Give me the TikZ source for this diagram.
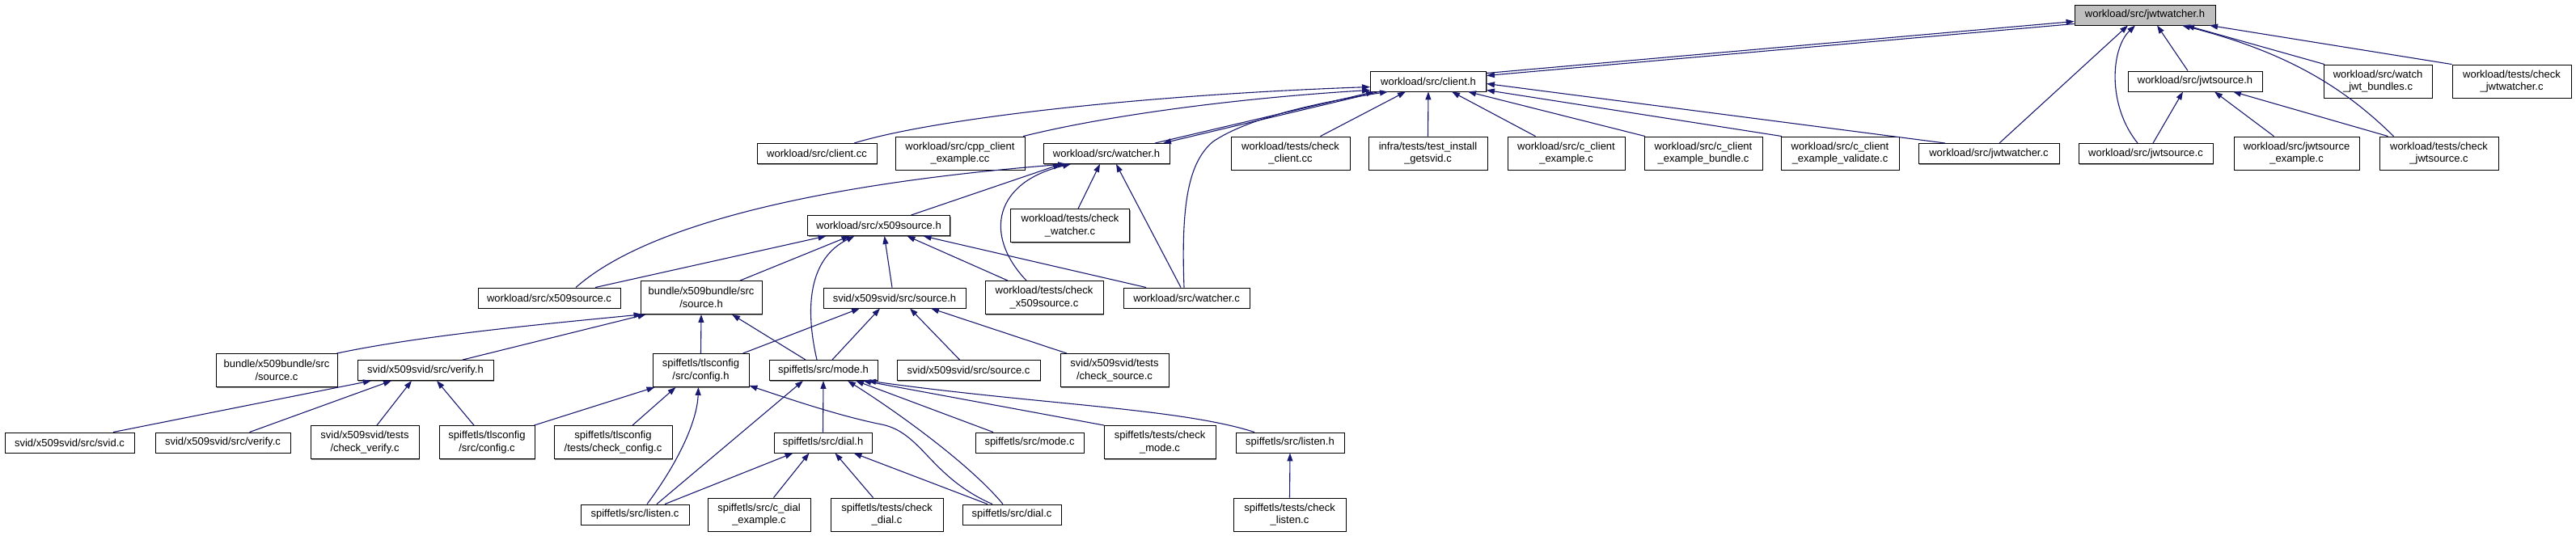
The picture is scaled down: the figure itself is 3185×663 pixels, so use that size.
\documentclass[tikz,border=0pt]{standalone}
\usepackage{fontspec}
\setmainfont{Liberation Sans}
\usetikzlibrary{arrows.meta,calc,shadows}
\definecolor{edgeblue}{HTML}{191970}
\definecolor{rootgray}{HTML}{BFBFBF}
\tikzset{
  box/.style={draw=black, line width=0.9pt, fill=white, minimum height=25pt, inner sep=0pt, align=center,
    font=\fontsize{13}{15.6}\selectfont,
    drop shadow={shadow xshift=1.2pt, shadow yshift=-1.2pt, fill=black!45, opacity=1}},
  box2/.style={box, minimum height=41pt},
  rootbox/.style={box, fill=rootgray},
  edge/.style={draw=edgeblue, line width=1.1pt, -{Triangle[length=10pt,width=7pt]}},
}
\begin{document}
\begin{tikzpicture}[x=1pt,y=-1pt]
\useasboundingbox (0,0) rectangle (3185,663);
% row 0
\node[rootbox, minimum width=174pt] (jwh) at (2652,18.5) {workload/src/jwtwatcher.h};
% row 1
\node[box, minimum width=143pt] (clh) at (1766,100.5) {workload/src/client.h};
\node[box, minimum width=166pt] (jsh) at (2714,100.5) {workload/src/jwtsource.h};
\node[box2, minimum width=134pt] (wjb) at (2940,100.5) {workload/src/watch\\\_jwt\_bundles.c};
\node[box2, minimum width=147pt] (cjw) at (3105.5,100.5) {workload/tests/check\\\_jwtwatcher.c};
% row 2
\node[box, minimum width=148pt] (ccc) at (1010,190) {workload/src/client.cc};
\node[box2, minimum width=160pt] (cpp) at (1187,189.5) {workload/src/cpp\_client\\\_example.cc};
\node[box, minimum width=156pt] (wh) at (1368,190) {workload/src/watcher.h};
\node[box2, minimum width=147pt] (tcc) at (1595.5,189.5) {workload/tests/check\\\_client.cc};
\node[box2, minimum width=147pt] (tig) at (1765.5,189.5) {infra/tests/test\_install\\\_getsvid.c};
\node[box2, minimum width=145pt] (cce) at (1936.5,189.5) {workload/src/c\_client\\\_example.c};
\node[box2, minimum width=146pt] (ccb) at (2106,189.5) {workload/src/c\_client\\\_example\_bundle.c};
\node[box2, minimum width=146pt] (ccv) at (2275,189.5) {workload/src/c\_client\\\_example\_validate.c};
\node[box, minimum width=174pt] (jwc) at (2459,190) {workload/src/jwtwatcher.c};
\node[box, minimum width=166pt] (jsc) at (2653,190) {workload/src/jwtsource.c};
\node[box2, minimum width=155pt] (jse) at (2839.5,189.5) {workload/src/jwtsource\\\_example.c};
\node[box2, minimum width=147pt] (tjs) at (3015.5,189.5) {workload/tests/check\\\_jwtsource.c};
% row 3
\node[box, minimum width=176pt] (x5h) at (1086.5,279) {workload/src/x509source.h};
\node[box2, minimum width=147pt] (tcw) at (1323,279) {workload/tests/check\\\_watcher.c};
% row 4
\node[box, minimum width=176pt] (x5c) at (679,368.5) {workload/src/x509source.c};
\node[box2, minimum width=150pt] (bsh) at (867,368) {bundle/x509bundle/src\\/source.h};
\node[box, minimum width=176pt] (ssh) at (1106,368.5) {svid/x509svid/src/source.h};
\node[box2, minimum width=146pt] (tx5) at (1291,368) {workload/tests/check\\\_x509source.c};
\node[box, minimum width=156pt] (wc) at (1467,368.5) {workload/src/watcher.c};
% row 5
\node[box2, minimum width=150pt] (bsc) at (342,458) {bundle/x509bundle/src\\/source.c};
\node[box, minimum width=168pt] (vh) at (526,458) {svid/x509svid/src/verify.h};
\node[box2, minimum width=119pt] (cfh) at (866.5,458) {spiffetls/tlsconfig\\/src/config.h};
\node[box, minimum width=134pt] (mh) at (1018,458) {spiffetls/src/mode.h};
\node[box, minimum width=177pt] (ssc) at (1197.5,458) {svid/x509svid/src/source.c};
\node[box2, minimum width=134pt] (tsc) at (1378,458) {svid/x509svid/tests\\/check\_source.c};
% row 6
\node[box, minimum width=160pt] (svc) at (86,547.5) {svid/x509svid/src/svid.c};
\node[box, minimum width=167pt] (vc) at (275.5,547.5) {svid/x509svid/src/verify.c};
\node[box2, minimum width=134pt] (tvf) at (451,547) {svid/x509svid/tests\\/check\_verify.c};
\node[box2, minimum width=118pt] (cfc) at (602,547) {spiffetls/tlsconfig\\/src/config.c};
\node[box2, minimum width=146pt] (tcf) at (758,547) {spiffetls/tlsconfig\\/tests/check\_config.c};
\node[box, minimum width=121pt] (dh) at (1017.5,547.5) {spiffetls/src/dial.h};
\node[box, minimum width=134pt] (mc) at (1273,547.5) {spiffetls/src/mode.c};
\node[box2, minimum width=138pt] (tmc) at (1434,547) {spiffetls/tests/check\\\_mode.c};
\node[box, minimum width=134pt] (lh) at (1595,547.5) {spiffetls/src/listen.h};
% row 7
\node[box, minimum width=134pt] (lc) at (785,636.5) {spiffetls/src/listen.c};
\node[box2, minimum width=127pt] (cde) at (938.5,636.5) {spiffetls/src/c\_dial\\\_example.c};
\node[box2, minimum width=139pt] (tdc) at (1096.5,636.5) {spiffetls/tests/check\\\_dial.c};
\node[box, minimum width=122pt] (dc) at (1251,636.5) {spiffetls/src/dial.c};
\node[box2, minimum width=139pt] (tlc) at (1594.5,636.5) {spiffetls/tests/check\\\_listen.c};

% edges into jwtwatcher.h
\draw[edge] ($(clh.east)+(0,-10)$) -- ($(jwh.west)+(0,8)$);
\draw[edge] ($(jwh.west)+(0,11)$) -- ($(clh.east)+(0,-7)$);
\draw[edge] ($(jwc.north)+(13,0)$) -- ($(jwh.south)+(-21,0)$);
\draw[edge] ($(jsc.north)+(-10,0)$) .. controls (2605,130) and (2610,60) .. ($(jwh.south)+(-12,0)$);
\draw[edge] ($(jsh.north)+(-9,0)$) -- ($(jwh.south)+(15,0)$);
\draw[edge] ($(tjs.north)+(-56,0)$) .. controls (2900,110) and (2830,65) .. ($(jwh.south)+(46,0)$);
\draw[edge] ($(wjb.north)+(-66,0)$) -- ($(jwh.south)+(51,0)$);
\draw[edge] ($(cjw.north)+(-74,0)$) -- ($(jwh.south)+(80,0)$);
% edges into client.h
\draw[edge] ($(ccc.north)+(46,0)$) .. controls (1150,148) and (1400,118) .. ($(clh.west)+(0,7)$);
\draw[edge] ($(cpp.north)+(78,0)$) .. controls (1380,140) and (1550,120) .. ($(clh.west)+(0,11)$);
\draw[edge] ($(wh.north)+(60,0)$) -- ($(clh.south)+(-67,0)$);
\draw[edge] ($(clh.south)+(-61,0)$) -- ($(wh.north)+(70,0)$);
\draw[edge] ($(wc.north)+(-3,0)$) .. controls (1460,250) and (1470,200) .. (1500,175) .. controls (1540,148) and (1620,128) .. ($(clh.south)+(-50,0)$);
\draw[edge] ($(tcc.north)+(37,0)$) -- ($(clh.south)+(-28,0)$);
\draw[edge] (tig.north) -- (clh.south);
\draw[edge] ($(cce.north)+(-38,0)$) -- ($(clh.south)+(29,0)$);
\draw[edge] ($(ccb.north)+(-72,0)$) -- ($(clh.south)+(49,0)$);
\draw[edge] ($(ccv.north)+(-72,0)$) -- ($(clh.east)+(0,11)$);
\draw[edge] ($(jwc.north)+(-54,0)$) -- ($(clh.east)+(0,3)$);
% edges into jwtsource.h
\draw[edge] ($(jsc.north)+(9,0)$) -- ($(jsh.south)+(-15,0)$);
\draw[edge] ($(jse.north)+(-28,0)$) -- ($(jsh.south)+(24,0)$);
\draw[edge] ($(tjs.north)+(-63,0)$) -- ($(jsh.south)+(47,0)$);
% edges into watcher.h
\draw[edge] ($(x5h.north)+(40,0)$) -- ($(wh.south)+(-56,0)$);
\draw[edge] ($(x5c.north)+(33,0)$) .. controls (820,260) and (1100,220) .. ($(wh.south)+(-50,0)$);
\draw[edge] ($(tx5.north)+(-22,0)$) .. controls (1215,290) and (1230,225) .. ($(wh.south)+(-44,0)$);
\draw[edge] ($(tcw.north)+(10,0)$) -- ($(wh.south)+(-8,0)$);
\draw[edge] ($(wc.north)+(-7,0)$) -- ($(wh.south)+(12,0)$);
% edges into x509source.h
\draw[edge] ($(x5c.north)+(57,0)$) -- ($(x5h.south)+(-65,0)$);
\draw[edge] ($(bsh.north)+(48,0)$) -- ($(x5h.south)+(-36,0)$);
\draw[edge] ($(mh.north)+(-8,0)$) .. controls (995,380) and (1000,320) .. ($(x5h.south)+(-30,0)$);
\draw[edge] ($(ssh.north)+(-3,0)$) -- ($(x5h.south)+(7,0)$);
\draw[edge] ($(tx5.north)+(-45,0)$) -- ($(x5h.south)+(35,0)$);
\draw[edge] ($(wc.north)+(-50,0)$) -- ($(x5h.south)+(55,0)$);
% edges into bundle source.h
\draw[edge] ($(bsc.north east)+(-1,0)$) .. controls (520,415) and (680,400) .. ($(bsh.south west)+(2,0)$);
\draw[edge] ($(vh.north)+(46,0)$) -- ($(bsh.south west)+(7,0)$);
\draw[edge] (cfh.north) -- (bsh.south);
\draw[edge] ($(mh.north)+(-22,0)$) -- ($(bsh.south)+(38,0)$);
% edges into svid source.h
\draw[edge] ($(cfh.north)+(52,0)$) -- ($(ssh.south)+(-43,0)$);
\draw[edge] ($(mh.north)+(11,0)$) -- ($(ssh.south)+(-18,0)$);
\draw[edge] ($(ssc.north)+(-11,0)$) -- ($(ssh.south)+(19,0)$);
\draw[edge] ($(tsc.north)+(-59,0)$) -- ($(ssh.south)+(45,0)$);
% edges into verify.h
\draw[edge] ($(svc.north)+(54,0)$) -- ($(vh.south)+(-67,0)$);
\draw[edge] ($(vc.north)+(33,0)$) -- ($(vh.south)+(-42,0)$);
\draw[edge] ($(tvf.north)+(15,0)$) -- ($(vh.south)+(-17,0)$);
\draw[edge] ($(cfc.north)+(-16,0)$) -- ($(vh.south)+(14,0)$);
% edges into config.h
\draw[edge] ($(cfc.north east)+(-1,0)$) -- ($(cfh.south west)+(3,0)$);
\draw[edge] ($(tcf.north)+(24,0)$) -- ($(cfh.south)+(-31,0)$);
\draw[edge] ($(lc.north)+(15,0)$) .. controls (840,570) and (862,520) .. ($(cfh.south)+(-3,0)$);
\draw[edge] ($(dc.north)+(-24,0)$) .. controls (1150,590) and (1140,535) .. (1090,525) .. controls (1040,515) and (980,495) .. ($(cfh.south east)+(0,-2)$);
% edges into mode.h
\draw[edge] ($(lc.north)+(27,0)$) -- ($(mh.south)+(-25,0)$);
\draw[edge] (dh.north) -- (mh.south);
\draw[edge] ($(dc.north)+(-11,0)$) .. controls (1200,575) and (1110,510) .. ($(mh.south)+(30,0)$);
\draw[edge] ($(mc.north)+(-45,0)$) -- ($(mh.south)+(40,0)$);
\draw[edge] ($(tmc.north)+(-69,0)$) -- ($(mh.south)+(49,0)$);
\draw[edge] ($(lh.north)+(-44,0)$) .. controls (1460,505) and (1280,500) .. ($(mh.south)+(55,0)$);
% edges into dial.h
\draw[edge] ($(lc.north)+(37,0)$) -- ($(dh.south)+(-37,0)$);
\draw[edge] ($(cde.north)+(18,0)$) -- ($(dh.south)+(-17,0)$);
\draw[edge] ($(tdc.north)+(-17,0)$) -- ($(dh.south)+(15,0)$);
\draw[edge] ($(dc.north)+(-30,0)$) -- ($(dh.south)+(38,0)$);
% edge into listen.h
\draw[edge] (tlc.north) -- (lh.south);
\end{tikzpicture}
\end{document}
